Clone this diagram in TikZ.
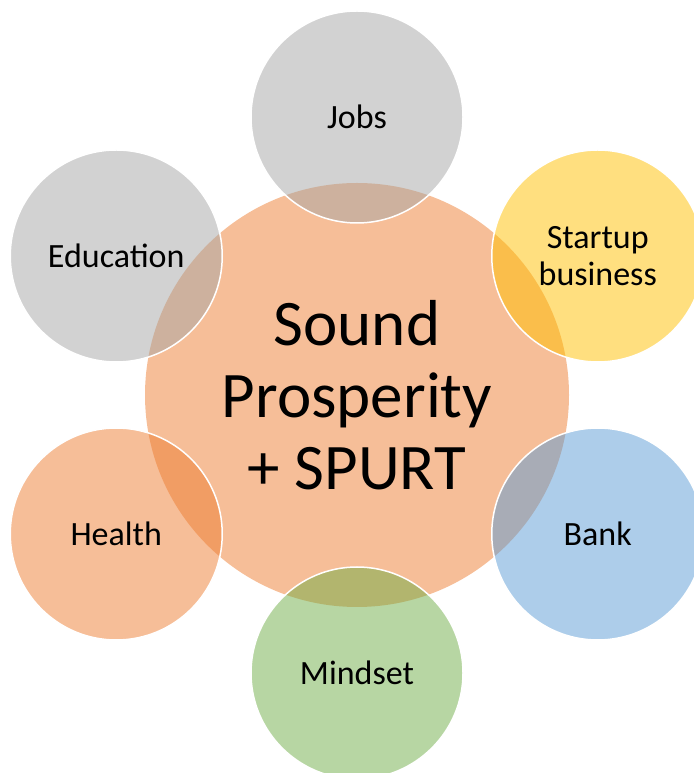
\documentclass[tikz,border=0pt]{standalone}
\usepackage{fontspec}
\setmainfont{Carlito}
\usetikzlibrary{positioning}

\definecolor{hubcolor}{HTML}{ED7D31}
\definecolor{greycolor}{HTML}{A5A5A5}
\definecolor{goldcolor}{HTML}{FFC000}
\definecolor{bluecolor}{HTML}{5B9BD5}
\definecolor{greencolor}{HTML}{70AD47}

\begin{document}
\begin{tikzpicture}[x=1pt,y=1pt,
	bubble/.style={circle,minimum size=212pt,inner sep=0pt,fill opacity=0.5,text opacity=1,draw=white,line width=1.5pt,align=center,font=\fontsize{34}{37}\selectfont},
	hubble/.style={circle,minimum size=424pt,inner sep=0pt,fill opacity=0.5,text opacity=1,align=center,font=\fontsize{65}{72}\selectfont}]
	\useasboundingbox (0,0) rectangle (693,773);
	% centre
	\node[hubble,fill=hubcolor] (hub) at (357,378) {Sound\\Prosperity\\+ SPURT};
	% around it
	\node[bubble,fill=greycolor] (jobs) at (357,656) {Jobs};
	\node[bubble,fill=goldcolor] (startup) at (597.75,517) {Startup\\business};
	\node[bubble,fill=bluecolor] (bank) at (597.75,239) {Bank};
	\node[bubble,fill=greencolor] (mindset) at (357,100) {Mindset};
	\node[bubble,fill=hubcolor] (health) at (116.25,239) {Health};
	\node[bubble,fill=greycolor] (education) at (116.25,517) {Education};
\end{tikzpicture}
\end{document}
